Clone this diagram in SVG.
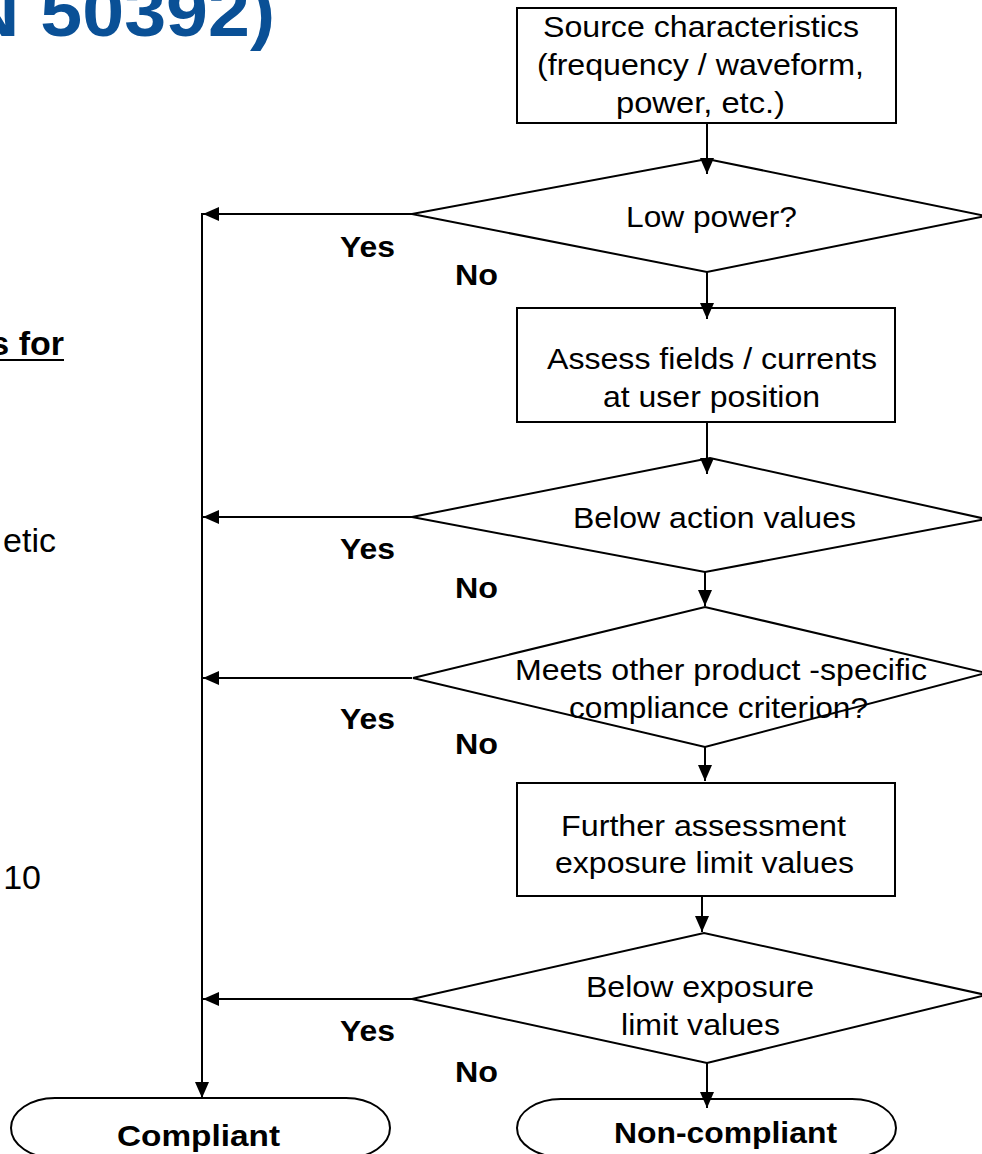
<svg xmlns="http://www.w3.org/2000/svg" width="982" height="1154" viewBox="0 0 982 1154">
<style>
.t{font-family:"Liberation Sans",Arial,sans-serif;font-size:29.5px;fill:#000}
.b{font-family:"Liberation Sans",Arial,sans-serif;font-size:29.5px;font-weight:bold;fill:#000}
.side{font-family:"Liberation Sans",Arial,sans-serif;font-size:34px;fill:#000}
.shape{fill:#fff;stroke:#000;stroke-width:2}
.con{fill:none;stroke:#000;stroke-width:2}
</style>
<defs>
<marker id="ah" markerUnits="userSpaceOnUse" markerWidth="16" markerHeight="14" refX="16" refY="7" orient="auto">
<path d="M0,0 L16,7 L0,14 Z" fill="#000"/>
</marker>
</defs>
<rect width="982" height="1154" fill="#fff"/>
<g id="background-text">
<text x="-35" y="36" font-family="Liberation Sans,Arial,sans-serif" font-size="70" font-weight="bold" fill="#0a5096" textLength="310" lengthAdjust="spacingAndGlyphs">N 50392)</text>
<text x="64" y="355" text-anchor="end" font-family="Liberation Sans,Arial,sans-serif" font-size="34" font-weight="bold" fill="#000">s for</text>
<line x1="0" y1="360" x2="64" y2="360" stroke="#000" stroke-width="2.2"/>
<text x="56" y="552" text-anchor="end" class="side">etic</text>
<text x="41" y="889" text-anchor="end" class="side">10</text>
</g>
<g id="source">
<rect class="shape" x="517" y="8" width="379" height="115"/>
<text class="t" x="543" y="37" textLength="316" lengthAdjust="spacingAndGlyphs">Source characteristics</text>
<text class="t" x="537" y="75" textLength="327" lengthAdjust="spacingAndGlyphs">(frequency / waveform,</text>
<text class="t" x="616" y="113" textLength="169" lengthAdjust="spacingAndGlyphs">power, etc.)</text>
</g>
<g id="low-power">
<polygon class="shape" points="412,214 707,159 986,216 707,272"/>
<text class="t" x="626" y="227" textLength="171" lengthAdjust="spacingAndGlyphs">Low power?</text>
</g>
<g id="assess">
<rect class="shape" x="517" y="308" width="378" height="114"/>
<text class="t" x="547" y="369" textLength="330" lengthAdjust="spacingAndGlyphs">Assess fields / currents</text>
<text class="t" x="603" y="407" textLength="217" lengthAdjust="spacingAndGlyphs">at user position</text>
</g>
<g id="below-action">
<polygon class="shape" points="412,517 710,458 986,519 705,572"/>
<text class="t" x="573" y="528" textLength="283" lengthAdjust="spacingAndGlyphs">Below action values</text>
</g>
<g id="product-specific">
<polygon class="shape" points="413,678 705,607 986,673 705,747"/>
<text class="t" x="515" y="680" textLength="412" lengthAdjust="spacingAndGlyphs">Meets other product -specific</text>
<text class="t" x="569" y="718" textLength="299" lengthAdjust="spacingAndGlyphs">compliance criterion?</text>
</g>
<g id="further">
<rect class="shape" x="517" y="783" width="378" height="113"/>
<text class="t" x="561" y="836" textLength="285" lengthAdjust="spacingAndGlyphs">Further assessment</text>
<text class="t" x="555" y="873" textLength="299" lengthAdjust="spacingAndGlyphs">exposure limit values</text>
</g>
<g id="below-exposure">
<polygon class="shape" points="412,999 704,933 986,995 707,1063"/>
<text class="t" x="586" y="997" textLength="228" lengthAdjust="spacingAndGlyphs">Below exposure</text>
<text class="t" x="621" y="1035" textLength="159" lengthAdjust="spacingAndGlyphs">limit values</text>
</g>
<g id="compliant">
<path class="shape" d="M55,1098 H346 A44,30 0 0 1 346,1158 H55 A44,30 0 0 1 55,1098 Z"/>
<text class="b" x="117" y="1146" textLength="163" lengthAdjust="spacingAndGlyphs">Compliant</text>
</g>
<g id="non-compliant">
<path class="shape" d="M561,1099 H852 A44,29 0 0 1 852,1157 H561 A44,29 0 0 1 561,1099 Z"/>
<text class="b" x="614" y="1143" textLength="223" lengthAdjust="spacingAndGlyphs">Non-compliant</text>
</g>
<g id="labels">
<text class="b" x="340" y="257" textLength="55" lengthAdjust="spacingAndGlyphs">Yes</text>
<text class="b" x="340" y="559" textLength="55" lengthAdjust="spacingAndGlyphs">Yes</text>
<text class="b" x="340" y="729" textLength="55" lengthAdjust="spacingAndGlyphs">Yes</text>
<text class="b" x="340" y="1041" textLength="55" lengthAdjust="spacingAndGlyphs">Yes</text>
<text class="b" x="455" y="285" textLength="43" lengthAdjust="spacingAndGlyphs">No</text>
<text class="b" x="455" y="598" textLength="43" lengthAdjust="spacingAndGlyphs">No</text>
<text class="b" x="455" y="754" textLength="43" lengthAdjust="spacingAndGlyphs">No</text>
<text class="b" x="455" y="1082" textLength="43" lengthAdjust="spacingAndGlyphs">No</text>
</g>
<g id="connectors">
<line class="con" x1="707" y1="123" x2="707" y2="174" marker-end="url(#ah)"/>
<line class="con" x1="707" y1="272" x2="707" y2="319" marker-end="url(#ah)"/>
<line class="con" x1="707" y1="422" x2="707" y2="474" marker-end="url(#ah)"/>
<line class="con" x1="705" y1="572" x2="705" y2="606" marker-end="url(#ah)"/>
<line class="con" x1="705" y1="747" x2="705" y2="781" marker-end="url(#ah)"/>
<line class="con" x1="702" y1="896" x2="702" y2="932" marker-end="url(#ah)"/>
<line class="con" x1="707" y1="1063" x2="707" y2="1108" marker-end="url(#ah)"/>
<line class="con" x1="412" y1="214" x2="203" y2="214" marker-end="url(#ah)"/>
<line class="con" x1="412" y1="517" x2="203" y2="517" marker-end="url(#ah)"/>
<line class="con" x1="412" y1="678" x2="203" y2="678" marker-end="url(#ah)"/>
<line class="con" x1="412" y1="999" x2="203" y2="999" marker-end="url(#ah)"/>
<line class="con" x1="202" y1="213" x2="202" y2="1098" marker-end="url(#ah)"/>
</g>
</svg>
